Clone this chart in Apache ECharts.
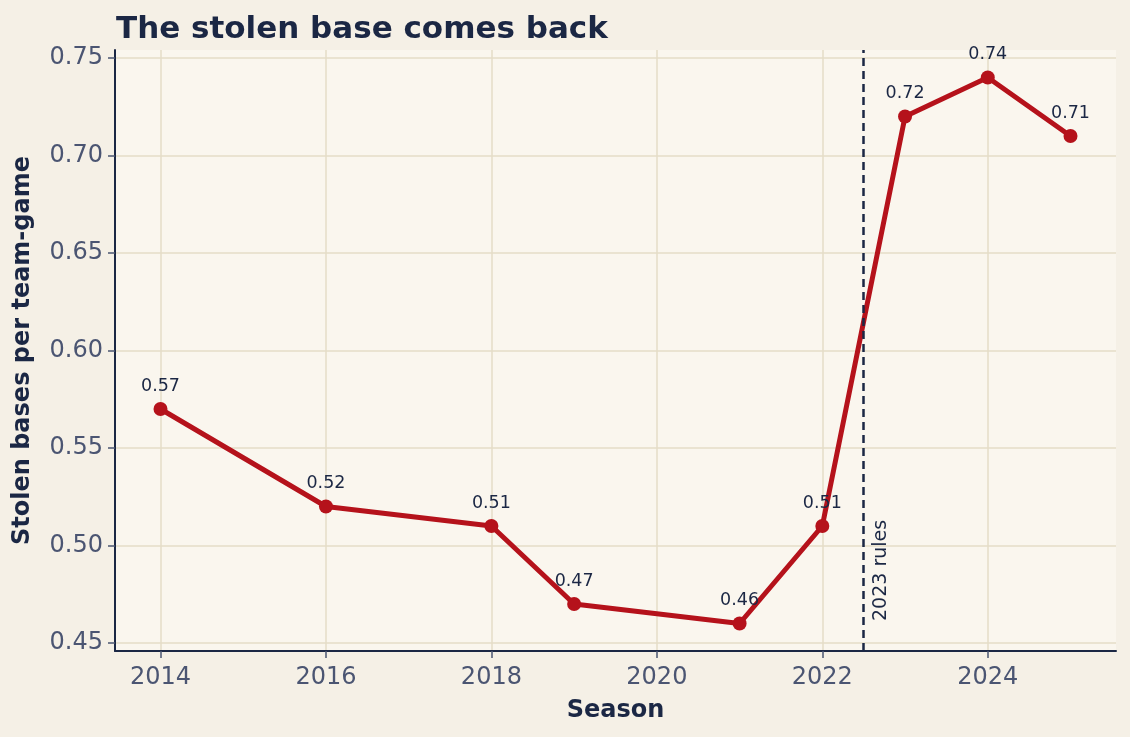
<!DOCTYPE html>
<html>
<head>
<meta charset="utf-8">
<script src="https://cdn.jsdelivr.net/npm/echarts@6/dist/echarts.min.js"></script>
<style>
  html, body { margin: 0; padding: 0; background: #f5f0e6; }
  #chart { width: 1130px; height: 737px; }
</style>
</head>
<body>
<div id="chart"></div>
<script>
'use strict';

// seasons and stolen bases per team-game
const seasons = [2014, 2016, 2018, 2019, 2021, 2022, 2023, 2024, 2025];
const steals = [0.57, 0.52, 0.51, 0.47, 0.46, 0.51, 0.72, 0.74, 0.71];
const xTicks = [2014, 2016, 2018, 2020, 2022, 2024];
const yTicks = [0.45, 0.50, 0.55, 0.60, 0.65, 0.70, 0.75];
const ruleSeason = 2022.5;

const navy = '#1b2744';
const slate = '#4b5572';
const red = '#b5121b';
const gridColor = '#e5dcc7';
const font = 'DejaVu Sans';

let chart = echarts.init(document.getElementById('chart'));

chart.setOption({
  backgroundColor: '#f5f0e6',
  animation: false,
  textStyle: { fontFamily: font },
  title: {
    text: 'The stolen base comes back',
    left: 111,
    top: 9,
    textStyle: { fontFamily: font, fontSize: 31, fontWeight: 'bold', color: navy }
  },
  grid: {
    left: 115, right: 14, top: 50, bottom: 86,
    show: true, backgroundColor: '#faf6ee', borderWidth: 0
  },
  xAxis: {
    type: 'value',
    min: 2013.45,
    max: 2025.55,
    name: 'Season',
    nameLocation: 'middle',
    nameGap: 48,
    nameTextStyle: { fontFamily: font, fontSize: 24, fontWeight: 'bold', color: navy },
    axisLine: { show: true, onZero: false, lineStyle: { color: navy, width: 2 } },
    axisTick: { show: true, customValues: xTicks, length: 7, lineStyle: { color: slate, width: 1.5 } },
    axisLabel: {
      customValues: xTicks, margin: 15,
      fontFamily: font, fontSize: 24, color: slate,
      formatter: v => String(v)
    },
    splitLine: { show: true, lineStyle: { color: gridColor, width: 1.5 } }
  },
  yAxis: {
    type: 'value',
    min: 0.4459,
    max: 0.7541,
    name: 'Stolen bases per team-game',
    nameLocation: 'middle',
    nameGap: 80,
    nameTextStyle: { fontFamily: font, fontSize: 24, fontWeight: 'bold', color: navy },
    axisLine: { show: true, onZero: false, lineStyle: { color: navy, width: 2 } },
    axisTick: { show: true, customValues: yTicks, length: 7, lineStyle: { color: slate, width: 1.5 } },
    axisLabel: {
      customValues: yTicks, margin: 12,
      padding: [8, 0, 0, 0],
      fontFamily: font, fontSize: 24, color: slate,
      formatter: v => v.toFixed(2)
    },
    splitLine: { show: true, lineStyle: { color: gridColor, width: 1.5 } }
  },
  series: [{
    type: 'line',
    data: seasons.map((s, i) => [s, steals[i]]),
    symbol: 'circle',
    symbolSize: 14,
    lineStyle: { color: red, width: 5 },
    itemStyle: { color: red },
    label: {
      show: true,
      position: 'top',
      distance: 7,
      fontFamily: font,
      fontSize: 17.5,
      color: navy,
      formatter: p => p.value[1].toFixed(2)
    },
    markLine: {
      silent: true,
      symbol: 'none',
      lineStyle: { color: navy, type: [8, 5], width: 2.5 },
      label: {
        show: true,
        formatter: '2023 rules',
        position: 'insideStartBottom',
        distance: [30, 8],
        fontFamily: font,
        fontSize: 19,
        color: navy
      },
      data: [{ xAxis: ruleSeason }]
    }
  }]
});
</script>
</body>
</html>
